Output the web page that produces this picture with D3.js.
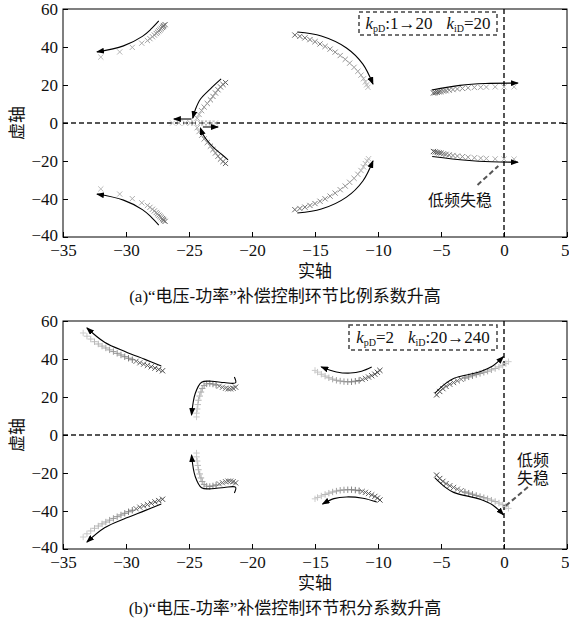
<!DOCTYPE html>
<html>
<head>
<meta charset="utf-8">
<script src="https://cdn.jsdelivr.net/npm/d3@7"></script>
<style>
  body { margin: 0; background: #fff; }
  text { font-family: "Liberation Serif", "Noto Sans CJK SC", serif; }
</style>
</head>
<body>
<svg width="569" height="621"></svg>
<script>
const xTicks = [-35, -30, -25, -20, -15, -10, -5, 0, 5];
const yTicks = [-60, -40, -20, 0, 20, 40, 60];
// the source figure labels its bottom tick "-40" twice
const yTickLabels = ["−40", "−40", "−20", "0", "20", "40", "60"];

// (a) kpD 1 -> 20, kiD = 20 : pole positions [re, im]
const a1Up = [[-26.9,51.8],[-27.0,51.3],[-27.05,50.8],[-27.1,50.3],[-27.2,49.7],[-27.3,49.1],[-27.4,48.5],[-27.5,47.8],[-27.6,47.1],[-27.75,46.3],[-27.9,45.4],[-28.1,44.4],[-28.3,43.4],[-28.75,42.0],[-29.5,39.8],[-30.5,37.4],[-32.0,34.7]];
const a1Lo = [[-26.9,-51.8],[-27.0,-51.3],[-27.05,-50.8],[-27.1,-50.3],[-27.2,-49.7],[-27.3,-49.1],[-27.4,-48.5],[-27.5,-47.8],[-27.6,-47.1],[-27.75,-46.3],[-27.9,-45.4],[-28.1,-44.4],[-28.3,-43.4],[-28.75,-42.0],[-29.5,-39.8],[-30.5,-37.4],[-32.0,-34.7]];
const a2Up = [[-22.1,21.3],[-22.3,20.3],[-22.5,19.0],[-22.7,17.5],[-22.9,15.8],[-23.1,14.0],[-23.3,12.2],[-23.55,10.3],[-23.8,8.4],[-24.0,6.5],[-24.2,4.5],[-24.35,2.5]];
const a2Lo = [[-22.1,-21.3],[-22.3,-20.3],[-22.5,-19.0],[-22.7,-17.5],[-22.9,-15.8],[-23.1,-14.0],[-23.3,-12.2],[-23.55,-10.3],[-23.8,-8.4],[-24.0,-6.5],[-24.2,-4.5],[-24.35,-2.5]];
const a2Left = [[-24.6,0],[-24.9,0],[-25.3,0],[-25.8,0],[-26.3,0]];
const a2Right = [[-24.1,0],[-23.8,0],[-23.5,0],[-23.2,0],[-22.9,0]];
const a3Up = [[-16.6,46.3],[-16.2,45.6],[-15.8,44.8],[-15.4,43.9],[-15.0,42.8],[-14.6,41.6],[-14.2,40.3],[-13.8,38.9],[-13.4,37.3],[-13.0,35.5],[-12.6,33.5],[-12.25,31.5],[-11.9,29.3],[-11.6,27.2],[-11.35,25.2],[-11.15,23.3],[-11.0,21.6],[-10.9,20.1],[-10.8,18.8]];
const a3Lo = [[-16.6,-45.6],[-16.2,-45.0],[-15.8,-44.3],[-15.4,-43.4],[-15.0,-42.4],[-14.6,-41.2],[-14.2,-39.9],[-13.8,-38.5],[-13.4,-36.9],[-13.0,-35.1],[-12.6,-33.2],[-12.25,-31.2],[-11.9,-29.1],[-11.6,-27.0],[-11.35,-25.0],[-11.15,-23.1],[-11.0,-21.4],[-10.85,-20.0],[-10.75,-18.8]];
const a4Up = [[-5.6,15.8],[-5.45,16.0],[-5.3,16.2],[-5.15,16.4],[-5.0,16.6],[-4.8,16.8],[-4.6,17.0],[-4.35,17.3],[-4.05,17.6],[-3.7,17.9],[-3.3,18.2],[-2.85,18.5],[-2.35,18.7],[-1.85,18.8],[-1.4,18.9],[-0.7,19.0],[0.0,19.0],[0.8,19.0]];
const a4Lo = [[-5.6,-15.0],[-5.45,-15.2],[-5.3,-15.5],[-5.15,-15.7],[-5.0,-15.9],[-4.8,-16.2],[-4.6,-16.5],[-4.35,-16.8],[-4.05,-17.1],[-3.7,-17.4],[-3.3,-17.7],[-2.85,-18.0],[-2.35,-18.3],[-1.85,-18.5],[-1.4,-18.7],[-0.7,-18.9],[0.0,-19.0],[0.8,-19.0]];

// (a) direction arrows
const a1UpArrow = [[-27.4,53.7],[-28.0,49.5],[-28.7,45.6],[-30.2,40.6],[-32.3,37.4]];
const a1LoArrow = [[-27.4,-53.7],[-28.0,-49.5],[-28.7,-45.6],[-30.2,-40.6],[-32.3,-37.4]];
const a2UpArrow = [[-22.45,23.2],[-23.3,18],[-24.1,12.5],[-24.5,7],[-24.7,2.6]];
const a2LoArrow = [[-21.9,-19.4],[-22.5,-16],[-23.1,-12.6],[-23.8,-7],[-24.1,-2.6]];
const a2LeftArrow = [[-24.8,2.1],[-26.2,2.1]];
const a2RightArrow = [[-23.9,-2.1],[-22.7,-2.1]];
const a3UpArrow = [[-16.4,47.9],[-14.5,45.8],[-12.5,39.5],[-11.2,31],[-10.4,20.5]];
const a3LoArrow = [[-16.4,-47.4],[-14.5,-45.3],[-12.5,-39],[-11.2,-30.5],[-10.4,-20]];
const a4UpArrow = [[-5.74,17.4],[-3.5,19.8],[-1.5,20.8],[1.1,21]];
const a4LoArrow = [[-5.7,-17.6],[-3,-19.6],[-1,-20.4],[1.1,-20.6]];

// (b) kpD = 2, kiD 20 -> 240
const b1Up = [[-27.1,33.8],[-27.4,34.5],[-27.7,35.2],[-28.0,35.9],[-28.3,36.6],[-28.6,37.3],[-28.9,38.0],[-29.2,38.8],[-29.5,39.6],[-29.8,40.4],[-30.1,41.2],[-30.4,42.1],[-30.7,43.0],[-31.0,43.9],[-31.3,44.8],[-31.6,45.8],[-31.9,46.8],[-32.2,47.9],[-32.5,49.1],[-32.8,50.5],[-33.1,52.0],[-33.4,53.7]];
const b1Lo = [[-27.1,-33.8],[-27.4,-34.5],[-27.7,-35.2],[-28.0,-35.9],[-28.3,-36.6],[-28.6,-37.3],[-28.9,-38.0],[-29.2,-38.8],[-29.5,-39.6],[-29.8,-40.4],[-30.1,-41.2],[-30.4,-42.1],[-30.7,-43.0],[-31.0,-43.9],[-31.3,-44.8],[-31.6,-45.8],[-31.9,-46.8],[-32.2,-47.9],[-32.5,-49.1],[-32.8,-50.5],[-33.1,-52.0],[-33.4,-53.7]];
const b2Up = [[-21.3,25.2],[-21.5,24.6],[-21.7,24.3],[-21.9,24.3],[-22.1,24.6],[-22.35,25.1],[-22.6,25.7],[-22.85,26.3],[-23.1,26.8],[-23.35,27.1],[-23.6,26.9],[-23.8,26.0],[-23.95,24.5],[-24.05,22.6],[-24.15,20.5],[-24.25,18.3],[-24.3,16.0],[-24.35,13.7],[-24.4,11.5],[-24.4,9.5]];
const b2Lo = [[-21.3,-25.2],[-21.5,-24.6],[-21.7,-24.3],[-21.9,-24.3],[-22.1,-24.6],[-22.35,-25.1],[-22.6,-25.7],[-22.85,-26.3],[-23.1,-26.8],[-23.35,-27.1],[-23.6,-26.9],[-23.8,-26.0],[-23.95,-24.5],[-24.05,-22.6],[-24.15,-20.5],[-24.25,-18.3],[-24.3,-16.0],[-24.35,-13.7],[-24.4,-11.5],[-24.4,-9.5]];
const b3Up = [[-9.85,34.0],[-10.05,33.0],[-10.25,32.0],[-10.5,31.2],[-10.75,30.5],[-11.0,29.8],[-11.25,29.2],[-11.5,28.7],[-11.8,28.3],[-12.1,28.0],[-12.4,28.0],[-12.7,28.1],[-13.0,28.4],[-13.3,28.8],[-13.6,29.4],[-13.9,30.1],[-14.2,31.0],[-14.5,32.0],[-14.8,33.1],[-15.0,34.0]];
const b3Lo = [[-9.85,-34.2],[-10.05,-33.2],[-10.25,-32.3],[-10.5,-31.5],[-10.75,-30.8],[-11.0,-30.2],[-11.25,-29.7],[-11.5,-29.3],[-11.8,-29.0],[-12.1,-28.8],[-12.4,-28.8],[-12.7,-28.9],[-13.0,-29.1],[-13.3,-29.5],[-13.6,-30.0],[-13.9,-30.6],[-14.2,-31.3],[-14.5,-32.1],[-14.8,-32.9],[-15.0,-33.6]];
const b4Up = [[-5.35,21.1],[-5.1,22.9],[-4.85,24.4],[-4.6,25.6],[-4.3,26.7],[-4.0,27.6],[-3.7,28.5],[-3.4,29.3],[-3.1,30.0],[-2.8,30.6],[-2.5,31.2],[-2.2,31.8],[-1.9,32.4],[-1.6,33.0],[-1.3,33.6],[-1.0,34.3],[-0.7,35.0],[-0.4,35.8],[-0.1,36.7],[0.15,37.6],[0.35,38.6]];
const b4Lo = [[-5.35,-21.1],[-5.1,-22.9],[-4.85,-24.4],[-4.6,-25.6],[-4.3,-26.7],[-4.0,-27.6],[-3.7,-28.5],[-3.4,-29.3],[-3.1,-30.0],[-2.8,-30.6],[-2.5,-31.2],[-2.2,-31.8],[-1.9,-32.4],[-1.6,-33.0],[-1.3,-33.6],[-1.0,-34.3],[-0.7,-35.0],[-0.4,-35.8],[-0.1,-36.7],[0.15,-37.6],[0.35,-38.6]];

// (b) direction arrows
const b1UpArrow = [[-27.2,36.3],[-28.5,39.8],[-30,43.7],[-31.7,48.8],[-33.1,56.3]];
const b1LoArrow = [[-27.2,-36.3],[-28.5,-39.8],[-30,-43.7],[-31.7,-48.8],[-33.1,-56.3]];
const b2UpArrow = [[-21.4,30.5],[-21.3,27.5],[-22.2,27.6],[-23.2,28.3],[-24.0,27.8],[-24.5,22],[-24.8,10.5]];
const b2LoArrow = [[-21.4,-30.5],[-21.3,-27.5],[-22.2,-27.6],[-23.2,-28.3],[-24.0,-27.8],[-24.5,-22],[-24.8,-10.5]];
const b3UpArrow = [[-10.5,35.8],[-11.3,33.6],[-12.2,32.6],[-13.3,33.2],[-14.5,35.8]];
const b3LoArrow = [[-10.1,-35.3],[-11.2,-33.3],[-12.5,-32.6],[-13.5,-33.5],[-14.4,-36.3]];
const b4UpArrow = [[-5.48,22],[-4.7,26.8],[-4.0,29.8],[-1.9,33.3],[-0.9,36.3],[-0.05,41.2]];
const b4LoArrow = [[-5.48,-22.6],[-4.7,-27.3],[-4.0,-30.2],[-1.9,-33.8],[-0.9,-36.8],[-0.05,-42]];

const captions = ["(a)“电压-功率”补偿控制环节比例系数升高", "(b)“电压-功率”补偿控制环节积分系数升高"];

const svg = d3.select("svg");
const x = d3.scaleLinear().domain([-35, 5]).range([63, 567]);

const defs = svg.append("defs");
defs.append("marker")
    .attr("id", "head")
    .attr("markerUnits", "userSpaceOnUse")
    .attr("markerWidth", 8).attr("markerHeight", 6)
    .attr("refX", 7).attr("refY", 3)
    .attr("orient", "auto")
  .append("path")
    .attr("d", "M0,0L8,3L0,6z")
    .attr("fill", "#000");

const line = d3.line().x(d => x(d[0])).curve(d3.curveCatmullRom);

const panels = [
  {top: 9, bottom: 237, shape: "x",
   series: [[a1Up, "#666", "#bbb"], [a1Lo, "#666", "#bbb"], [a2Up, "#666", "#aaa"], [a2Lo, "#666", "#aaa"],
            [a2Left, "#aaa", "#c4c4c4"], [a2Right, "#aaa", "#c4c4c4"], [a3Up, "#666", "#bbb"], [a3Lo, "#666", "#bbb"],
            [a4Up, "#555", "#bbb"], [a4Lo, "#555", "#bbb"]],
   arrows: [a1UpArrow, a1LoArrow, a2UpArrow, a2LoArrow, a2LeftArrow, a2RightArrow, a3UpArrow, a3LoArrow, a4UpArrow, a4LoArrow],
   legend: {x0: 359, x1: 497, y0: 12, y1: 35, parts: [["k", "pD", ":1→20"], ["k", "iD", "=20"]]},
   note: {lines: ["低频失稳"], tx: 460, ty: 206, from: [-2.1, -32.6], to: [-0.45, -22.6]}},
  {top: 321, bottom: 549, shape: "mix",
   series: [[b1Up, "#444", "#ccc"], [b1Lo, "#444", "#ccc"], [b2Up, "#555", "#ccc"], [b2Lo, "#555", "#ccc"],
            [b3Up, "#444", "#ccc"], [b3Lo, "#444", "#ccc"], [b4Up, "#444", "#ccc"], [b4Lo, "#444", "#ccc"]],
   arrows: [b1UpArrow, b1LoArrow, b2UpArrow, b2LoArrow, b3UpArrow, b3LoArrow, b4UpArrow, b4LoArrow],
   legend: {x0: 349, x1: 497, y0: 325, y1: 350, parts: [["k", "pD", "=2"], ["k", "iD", ":20→240"]]},
   note: {lines: ["低频", "失稳"], tx: 533, ty: 466, from: [1.9, -27.4], to: [0.1, -37.5]}}
];

const xShape = "M-2.6,-2.6L2.6,2.6M-2.6,2.6L2.6,-2.6";
const plusShape = "M-3.2,0L3.2,0M0,-3.2L0,3.2";

panels.forEach((p, k) => {
  const y = d3.scaleLinear().domain([-60, 60]).range([p.bottom, p.top]);
  const g = svg.append("g");

  // zero lines
  g.append("line")
      .attr("x1", x(-35)).attr("x2", x(5)).attr("y1", y(0)).attr("y2", y(0))
      .attr("stroke", "#555").attr("stroke-width", 2).attr("stroke-dasharray", "5,3");
  g.append("line")
      .attr("x1", x(0)).attr("x2", x(0)).attr("y1", y(60)).attr("y2", y(-60))
      .attr("stroke", "#555").attr("stroke-width", 2).attr("stroke-dasharray", "5,3");

  // root locus markers
  p.series.forEach(([pts, c0, c1]) => {
    const col = d3.interpolateRgb(c0, c1);
    const n = pts.length;
    g.append("g").selectAll("path")
      .data(pts)
      .enter().append("path")
        .attr("transform", d => `translate(${x(d[0])},${y(d[1])})`)
        .attr("d", (d, i) => p.shape === "x" || i < n * 0.35 ? xShape : plusShape)
        .attr("fill", "none")
        .attr("stroke", (d, i) => col(n > 1 ? i / (n - 1) : 0))
        .attr("stroke-width", 1);
  });

  // direction arrows
  line.y(d => y(d[1]));
  g.selectAll(".arrow")
    .data(p.arrows)
    .enter().append("path")
      .attr("class", "arrow")
      .attr("d", line)
      .attr("fill", "none")
      .attr("stroke", "#000")
      .attr("stroke-width", 1.1)
      .attr("marker-end", "url(#head)");

  // axes with inward ticks
  const xAxis = g.append("g")
      .attr("transform", `translate(0,${p.bottom})`)
      .call(d3.axisBottom(x).tickValues(xTicks).tickSize(-5).tickPadding(7));
  const yAxis = g.append("g")
      .attr("transform", `translate(${x(-35)},0)`)
      .call(d3.axisLeft(y).tickValues(yTicks).tickSize(-5).tickPadding(5)
        .tickFormat((d, i) => yTickLabels[i]));
  const rAxis = g.append("g")
      .attr("transform", `translate(${x(5)},0)`)
      .call(d3.axisRight(y).tickValues(yTicks).tickSize(-5).tickFormat(""));
  [xAxis, yAxis, rAxis].forEach(a => {
    a.select(".domain").remove();
    a.selectAll("text").attr("font-size", 17).attr("fill", "#111")
      .style("font-family", "'Liberation Serif', serif");
    a.selectAll("line").attr("stroke", "#000");
  });
  // bottom y label sits a touch higher so it clears the x labels
  yAxis.selectAll(".tick").filter(d => d === -60).select("text").attr("dy", "0.2em");
  // keep the last label inside the page
  xAxis.selectAll(".tick").filter(d => d === 5).select("text")
      .attr("text-anchor", "end").attr("x", 2);

  g.append("rect")
      .attr("x", x(-35)).attr("y", p.top)
      .attr("width", x(5) - x(-35)).attr("height", p.bottom - p.top)
      .attr("fill", "none").attr("stroke", "#000").attr("stroke-width", 1);

  // legend box
  const L = p.legend;
  g.append("rect")
      .attr("x", L.x0).attr("y", L.y0)
      .attr("width", L.x1 - L.x0).attr("height", L.y1 - L.y0)
      .attr("fill", "#fff").attr("stroke", "#444").attr("stroke-width", 1.5)
      .attr("stroke-dasharray", "4,3");
  const lt = g.append("text")
      .attr("x", (L.x0 + L.x1) / 2).attr("y", (L.y0 + L.y1) / 2 + 5)
      .attr("text-anchor", "middle").attr("font-size", 17).attr("fill", "#111");
  L.parts.forEach((part, j) => {
    lt.append("tspan").attr("font-style", "italic").attr("dx", j ? 14 : 0).text(part[0]);
    lt.append("tspan").attr("font-size", 10).attr("dy", 3).text(part[1]);
    lt.append("tspan").attr("dy", -3).text(part[2]);
  });

  // annotation
  const N = p.note;
  g.append("line")
      .attr("x1", x(N.from[0])).attr("y1", y(N.from[1]))
      .attr("x2", x(N.to[0])).attr("y2", y(N.to[1]))
      .attr("stroke", "#555").attr("stroke-width", 2).attr("stroke-dasharray", "5,3");
  N.lines.forEach((s, j) => {
    g.append("text")
        .attr("x", N.tx).attr("y", N.ty + j * 18)
        .attr("text-anchor", "middle").attr("font-size", 16).attr("fill", "#111")
        .text(s);
  });

  // axis titles and caption
  g.append("text")
      .attr("x", 315).attr("y", p.bottom + 40)
      .attr("text-anchor", "middle").attr("font-size", 17).attr("fill", "#111")
      .text("实轴");
  g.append("text")
      .attr("transform", `translate(23,${y(0)}) rotate(-90)`)
      .attr("text-anchor", "middle").attr("font-size", 17).attr("fill", "#111")
      .text("虚轴");
  g.append("text")
      .attr("x", 285).attr("y", p.bottom + 65)
      .attr("text-anchor", "middle").attr("font-size", 17).attr("fill", "#111")
      .text(captions[k]);
});
</script>
</body>
</html>
